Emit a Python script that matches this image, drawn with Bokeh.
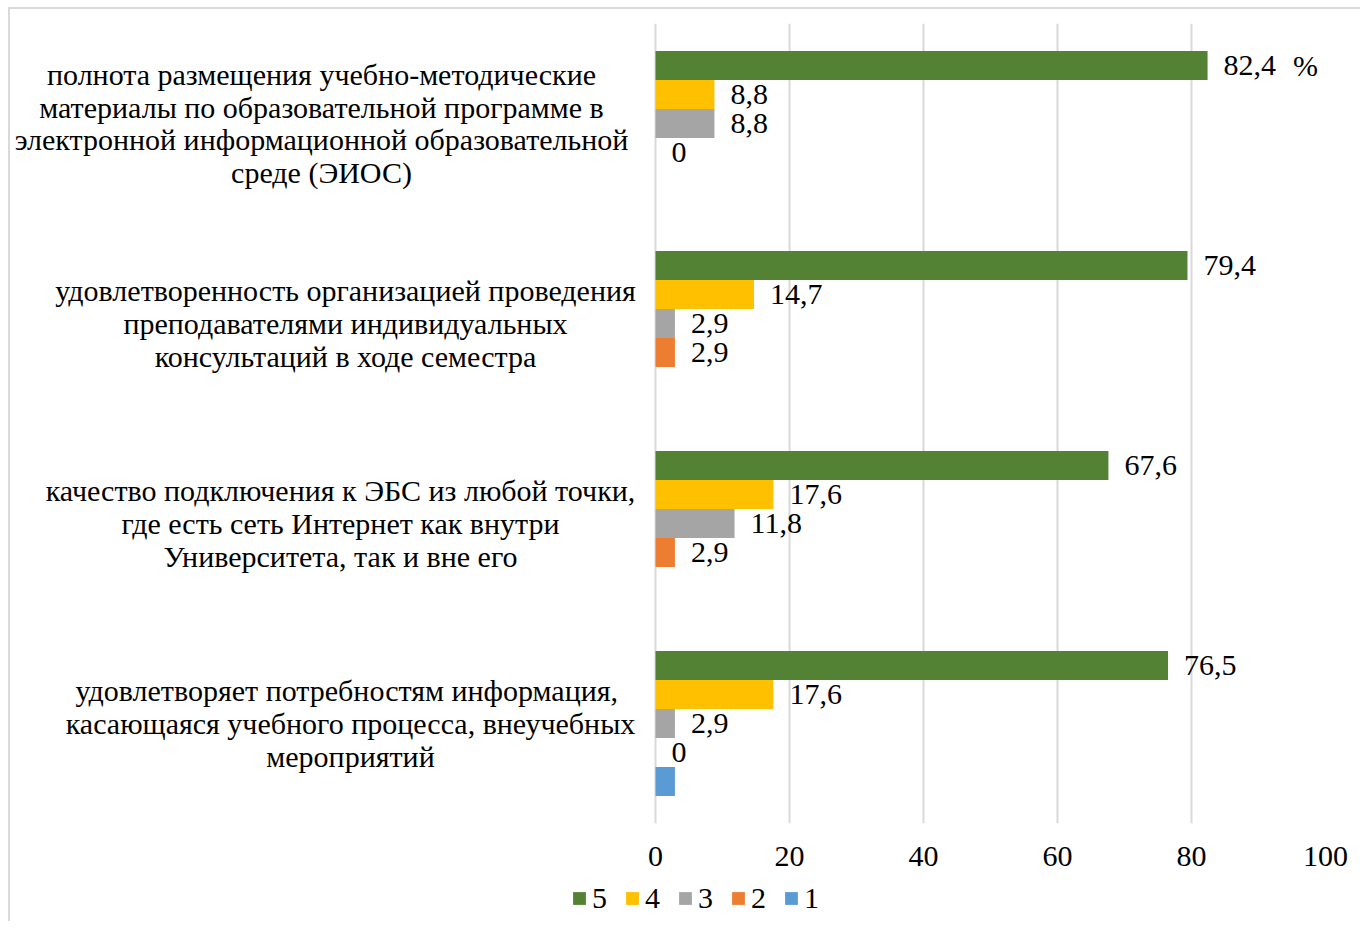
import math
from bokeh.plotting import figure
from bokeh.layouts import column
from bokeh.models import (FactorRange, Range1d, Legend, LegendItem,
                          ColumnDataSource, FixedTicker)
from bokeh.core.properties import value
from bokeh.embed import file_html
from bokeh.resources import INLINE

# ---------------- data ----------------
categories = [
    "полнота размещения учебно-методические\nматериалы по образовательной программе в\nэлектронной информационной образовательной\nсреде (ЭИОС)",
    "удовлетворенность организацией проведения\nпреподавателями индивидуальных\nконсультаций в ходе семестра",
    "качество подключения к ЭБС из любой точки,\nгде есть сеть Интернет как внутри\nУниверситета, так и вне его",
    "удовлетворяет  потребностям информация,\nкасающаяся учебного процесса, внеучебных\nмероприятий",
]
series_names = ["5", "4", "3", "2", "1"]
s5 = [82.4, 79.4, 67.6, 76.5]
s4 = [8.8, 14.7, 17.6, 17.6]
s3 = [8.8, 2.9, 11.8, 2.9]
s2 = [0.0, 2.9, 2.9, 0.0]
s1 = [math.nan, math.nan, math.nan, 2.9]
series_values = [s5, s4, s3, s2, s1]
series_labelled = [True, True, True, True, False]
colors = ["#548235", "#FFC000", "#A5A5A5", "#ED7D31", "#5B9BD5"]
x_ticks = [0, 20, 40, 60, 80, 100]
unit_text = "%"

FONT = "Liberation Serif"
FS = "30px"

# ---------------- layout constants ----------------
W = 1350
LABEL_AREA_PX = 645         # screen width left of the value 0
PX_PER_UNIT = 6.7           # 100 units -> 670 px

factors = [(c, s) for c in reversed(categories) for s in reversed(series_names)]
y_range = FactorRange(factors=factors, group_padding=1.9,
                      range_padding=0.95, range_padding_units="absolute")
x_range = Range1d(-LABEL_AREA_PX / PX_PER_UNIT, 100)

p = figure(width=W, height=870, y_range=y_range, x_range=x_range,
           output_backend="svg", toolbar_location=None,
           min_border_left=0, min_border_right=W - LABEL_AREA_PX - 670,
           min_border_top=14, min_border_bottom=56)
p.outline_line_color = None
p.background_fill_color = "white"
p.border_fill_color = "white"

p.yaxis.visible = False
p.ygrid.grid_line_color = None
p.xgrid.grid_line_color = "#d9d9d9"
p.xgrid.grid_line_width = 2
p.xaxis.ticker = FixedTicker(ticks=x_ticks)
p.xaxis.axis_line_color = None
p.xaxis.major_tick_line_color = None
p.xaxis.minor_tick_line_color = None
p.xaxis.major_label_text_font = FONT
p.xaxis.major_label_text_font_size = FS
p.xaxis.major_label_text_color = "black"
p.xaxis.major_label_standoff = 17

for name, vals, lab, col in zip(series_names, series_values, series_labelled, colors):
    ys, xs, txt = [], [], []
    for c, v in zip(categories, vals):
        if isinstance(v, float) and math.isnan(v):
            continue
        ys.append((c, name))
        xs.append(v)
        txt.append(f"{v:g}".replace(".", ","))
    src = ColumnDataSource(dict(y=ys, x=xs, t=txt))
    p.hbar(y="y", right="x", left=0, height=1.0, source=src,
           fill_color=col, line_color=None)
    if lab:
        p.text(x="x", y="y", text="t", source=src, x_offset=16,
               text_align="left", text_baseline="middle",
               text_font=value(FONT), text_font_size=FS, text_color="black")

# unit sign
p.text(x=[97], y=[(categories[0], "5")], text=[unit_text],
       text_align="center", text_baseline="middle",
       text_font=value(FONT), text_font_size=FS, text_color="black")

# category labels (left of value 0), centred on the middle bar slot of each group
label_offsets = [-334, -310, -315, -305]
cat_src = ColumnDataSource(dict(
    x=[0] * len(categories),
    y=[(c, series_names[2]) for c in categories],
    t=categories,
    dx=label_offsets,
))
p.text(x="x", y="y", text="t", x_offset="dx", source=cat_src,
       text_align="center", text_baseline="middle",
       text_font=value(FONT), text_font_size=FS, text_line_height=0.99,
       text_color="black")

# ---------------- legend strip (below the chart) ----------------
lg = figure(width=W, height=42, x_range=Range1d(0, 1), y_range=Range1d(0, 1),
            output_backend="svg", toolbar_location=None,
            min_border_left=0, min_border_right=0, min_border_top=0,
            min_border_bottom=0)
lg.axis.visible = False
lg.grid.grid_line_color = None
lg.outline_line_color = None
items = []
for name, col in zip(series_names, colors):
    # swatch-only renderer placed outside the visible range
    r = lg.hbar(y=[-5], right=[0], left=0, height=1.0, fill_color=col, line_color=None)
    items.append(LegendItem(label=name, renderers=[r]))
legend = Legend(items=items, orientation="horizontal",
                location=(LABEL_AREA_PX - 84, 6), glyph_width=16, glyph_height=16,
                label_standoff=5, label_width=14, spacing=17, padding=0,
                margin=0, border_line_color=None, background_fill_alpha=0,
                label_text_font=FONT, label_text_font_size=FS,
                label_text_color="black")
lg.add_layout(legend)

layout = column(p, lg, spacing=0,
                styles={"margin-left": "8px", "margin-top": "7px",
                        "border-left": "2px solid #d9d9d9",
                        "border-top": "2px solid #d9d9d9"})

open("out.html", "w").write(file_html(layout, INLINE))
